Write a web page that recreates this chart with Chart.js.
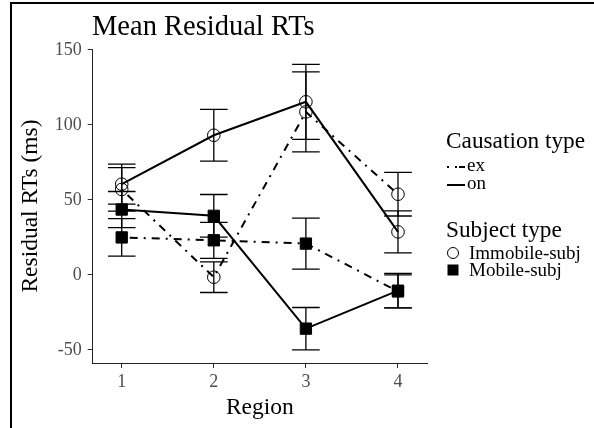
<!DOCTYPE html>
<html>
<head>
<meta charset="utf-8">
<script src="https://cdn.jsdelivr.net/npm/chart.js@4"></script>
<style>
  body { margin: 0; background: #fff; }
  #wrap { position: relative; width: 594px; height: 428px; overflow: hidden; font-family: "Liberation Serif", serif; }
  #frame { position: absolute; left: 10px; top: 2px; width: 600px; height: 440px; border-left: 2px solid #000; border-top: 2px solid #000; }
  #chart { position: absolute; left: 0; top: 0; }
  .txt { position: absolute; line-height: 1; white-space: nowrap; color: #000; }
  .key { position: absolute; }
</style>
</head>
<body>
<div id="wrap">
  <div id="frame"></div>
  <canvas id="chart" width="594" height="428"></canvas>
  <div class="txt" style="left:92px; top:11.5px; font-size:28.5px;">Mean Residual RTs</div>

  <div class="txt" style="left:446px; top:128.5px; font-size:23.3px;">Causation type</div>
  <svg class="key" style="left:446px; top:162px;" width="20" height="10">
    <line x1="1" y1="5" x2="19" y2="5" stroke="#000" stroke-width="2" stroke-dasharray="2 6 2 2 8"></line>
  </svg>
  <div class="txt" style="left:467px; top:155px; font-size:19px;">ex</div>
  <svg class="key" style="left:446px; top:180px;" width="20" height="10">
    <line x1="1" y1="5" x2="19" y2="5" stroke="#000" stroke-width="2"></line>
  </svg>
  <div class="txt" style="left:467px; top:173px; font-size:19px;">on</div>

  <div class="txt" style="left:446px; top:217.5px; font-size:23.3px;">Subject type</div>
  <svg class="key" style="left:446px; top:246px;" width="14" height="14">
    <circle cx="7" cy="7" r="5.5" fill="none" stroke="#000" stroke-width="1"></circle>
  </svg>
  <div class="txt" style="left:469px; top:243px; font-size:19px;">Immobile-subj</div>
  <svg class="key" style="left:446px; top:263px;" width="14" height="14">
    <rect x="1.5" y="1.5" width="11" height="11" fill="#000"></rect>
  </svg>
  <div class="txt" style="left:469px; top:260px; font-size:19px;">Mobile-subj</div>
</div>

<script>
// data
const regions = [1, 2, 3, 4];
const xTicks = [1, 2, 3, 4];
const yTicks = [-50, 0, 50, 100, 150];

const immobileEx = [57, -1.5, 108.7, 53.8];
const immobileExErr = [14.5, 10.2, 26.7, 14.5];
const immobileOn = [60.5, 93.1, 115.4, 28.7];
const immobileOnErr = [13.3, 17.3, 25, 14];
const mobileEx = [25, 23.1, 20.9, -11];
const mobileExErr = [12.5, 12, 17, 11];
const mobileOn = [43.6, 39.4, -35.8, -10.5];
const mobileOnErr = [12, 14.2, 14.1, 11.5];

const dotDash = [2, 6, 8, 6];
const capHalf = 0.15;

const toPoints = (values) => values.map((v, i) => ({ x: regions[i], y: v }));

const makeDataset = (label, values, errors, dashed, mobile) => ({
    label: label,
    data: toPoints(values),
    errors: errors,
    showLine: true,
    borderColor: '#000',
    borderWidth: 2,
    borderDash: dashed ? dotDash : [],
    pointStyle: mobile ? 'rect' : 'circle',
    pointRadius: mobile ? 8 : 6.3,
    pointBorderWidth: 1,
    pointBorderColor: '#000',
    pointBackgroundColor: mobile ? '#000' : 'rgba(0,0,0,0)',
    tension: 0,
});

const errorBars = {
    id: 'errorBars',
    afterDatasetsDraw(chart) {
        const { ctx } = chart;
        const xs = chart.scales.x;
        const ys = chart.scales.y;
        ctx.save();
        ctx.strokeStyle = '#000';
        ctx.lineWidth = 1.3;
        chart.data.datasets.forEach((ds) => {
            ds.data.forEach((p, i) => {
                const e = ds.errors[i];
                const xc = xs.getPixelForValue(p.x);
                const xl = xs.getPixelForValue(p.x - capHalf);
                const xr = xs.getPixelForValue(p.x + capHalf);
                const yt = ys.getPixelForValue(p.y + e);
                const yb = ys.getPixelForValue(p.y - e);
                ctx.beginPath();
                ctx.moveTo(xc, yt);
                ctx.lineTo(xc, yb);
                ctx.moveTo(xl, yt);
                ctx.lineTo(xr, yt);
                ctx.moveTo(xl, yb);
                ctx.lineTo(xr, yb);
                ctx.stroke();
            });
        });
        ctx.restore();
    },
};

const tickFont = { family: 'Liberation Serif', size: 18 };
const titleFont = { family: 'Liberation Serif', size: 23.5 };

new Chart(document.getElementById('chart'), {
    type: 'scatter',
    data: {
        datasets: [
            makeDataset('Immobile-subj ex', immobileEx, immobileExErr, true, false),
            makeDataset('Immobile-subj on', immobileOn, immobileOnErr, false, false),
            makeDataset('Mobile-subj ex', mobileEx, mobileExErr, true, true),
            makeDataset('Mobile-subj on', mobileOn, mobileOnErr, false, true),
        ],
    },
    options: {
        responsive: false,
        animation: false,
        devicePixelRatio: 1,
        layout: { padding: { top: 49, right: 167, bottom: 0, left: 12 } },
        plugins: {
            legend: { display: false },
            tooltip: { enabled: false },
        },
        scales: {
            x: {
                type: 'linear',
                min: 0.685,
                max: 4.315,
                afterBuildTicks: (s) => { s.ticks = xTicks.map((v) => ({ value: v })); },
                afterFit: (s) => { s.height = 65; },
                ticks: { font: tickFont, color: '#4d4d4d', padding: 3 },
                grid: { display: true, drawOnChartArea: false, drawTicks: true, tickLength: 5, color: '#333' },
                border: { display: true, color: '#222', width: 1 },
                title: { display: true, text: 'Region', font: titleFont, color: '#000', padding: { top: 2, bottom: 6 } },
            },
            y: {
                type: 'linear',
                min: -58.7,
                max: 150.6,
                afterBuildTicks: (s) => { s.ticks = yTicks.map((v) => ({ value: v })); },
                afterFit: (s) => { s.width = 80.7; },
                ticks: { font: tickFont, color: '#4d4d4d', padding: 6 },
                grid: { display: true, drawOnChartArea: false, drawTicks: true, tickLength: 5, color: '#333' },
                border: { display: true, color: '#222', width: 1 },
                title: { display: true, text: 'Residual RTs (ms)', font: titleFont, color: '#000', padding: { top: 5, bottom: 2 } },
            },
        },
    },
    plugins: [errorBars],
});
</script>
</body>
</html>
